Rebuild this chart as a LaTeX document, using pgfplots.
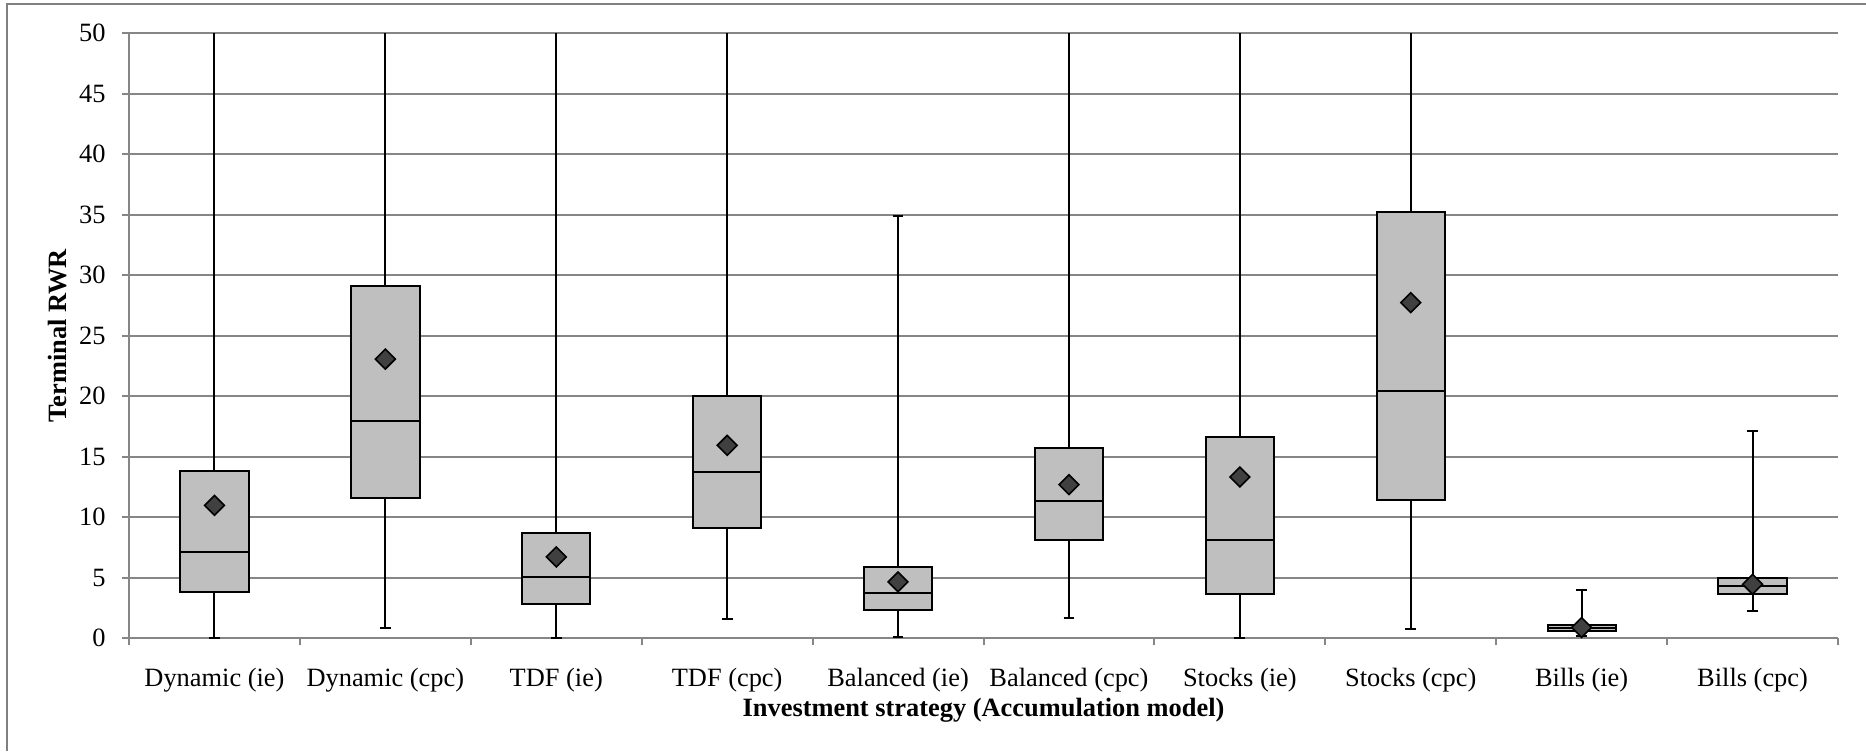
\documentclass[border=0pt]{standalone}
\usepackage{fontspec}
\setmainfont{Liberation Serif}
\usepackage{pgfplots}
\pgfplotsset{compat=1.18}
\usepgfplotslibrary{statistics}

\definecolor{gridgray}{RGB}{134,134,134}
\definecolor{boxgray}{RGB}{191,191,191}
\definecolor{meangray}{RGB}{64,64,64}
\definecolor{framegray}{RGB}{128,128,128}

\begin{document}
\begin{tikzpicture}
\begin{axis}[
  scale only axis,
  width=854.5pt, height=302.35pt,
  xmin=-0.5, xmax=9.5, ymin=0, ymax=50,
  axis x line*=bottom, axis y line*=left,
  axis line style={draw=gridgray, line width=1pt},
  xtick={0,...,9},
  xticklabels={Dynamic (ie),Dynamic (cpc),TDF (ie),TDF (cpc),Balanced (ie),Balanced (cpc),Stocks (ie),Stocks (cpc),Bills (ie),Bills (cpc)},
  major x tick style={draw=none},
  minor xtick={-0.5,0.5,...,9.5},
  minor x tick style={draw=gridgray, line width=1pt},
  ytick={0,5,...,50},
  y tick style={draw=gridgray, line width=1pt},
  tick align=outside,
  major tick length=3.7pt, minor tick length=3.7pt,
  ymajorgrids,
  grid style={draw=gridgray, line width=1pt},
  tick label style={font=\fontsize{13.2}{15}\selectfont},
  /pgf/number format/assume math mode=true,
  yticklabel style={anchor=east, inner sep=0pt, xshift=-7.8pt},
  xticklabel style={anchor=base, inner sep=0pt, yshift=-20.3pt},
  xlabel={Investment strategy (Accumulation model)},
  ylabel={Terminal RWR},
  label style={font=\fontsize{13.2}{15}\selectfont\bfseries},
  xlabel style={at={(axis description cs:0.5,0)}, anchor=base, yshift=-39pt},
  ylabel style={at={(axis description cs:-0.0421,0.5)}, anchor=center},
  boxplot/draw direction=y,
  boxplot/box extend=0.4,
  boxplot/whisker extend=0.063,
]
% Dynamic (ie)
\addplot[draw=black, fill=boxgray, line width=1pt, boxplot prepared={draw position=0,
  lower whisker=0, lower quartile=3.80, median=7.13, upper quartile=13.79, upper whisker=60}] coordinates {};
% Dynamic (cpc)
\addplot[draw=black, fill=boxgray, line width=1pt, boxplot prepared={draw position=1,
  lower whisker=0.79, lower quartile=11.57, median=17.91, upper quartile=29.08, upper whisker=60}] coordinates {};
% TDF (ie)
\addplot[draw=black, fill=boxgray, line width=1pt, boxplot prepared={draw position=2,
  lower whisker=0, lower quartile=2.85, median=5.07, upper quartile=8.72, upper whisker=60}] coordinates {};
% TDF (cpc)
\addplot[draw=black, fill=boxgray, line width=1pt, boxplot prepared={draw position=3,
  lower whisker=1.58, lower quartile=9.07, median=13.71, upper quartile=20.05, upper whisker=60}] coordinates {};
% Balanced (ie)
\addplot[draw=black, fill=boxgray, line width=1pt, boxplot prepared={draw position=4,
  lower whisker=0.08, lower quartile=2.34, median=3.76, upper quartile=5.86, upper whisker=34.86}] coordinates {};
% Balanced (cpc)
\addplot[draw=black, fill=boxgray, line width=1pt, boxplot prepared={draw position=5,
  lower whisker=1.66, lower quartile=8.08, median=11.33, upper quartile=15.69, upper whisker=60}] coordinates {};
% Stocks (ie)
\addplot[draw=black, fill=boxgray, line width=1pt, boxplot prepared={draw position=6,
  lower whisker=0, lower quartile=3.65, median=8.12, upper quartile=16.60, upper whisker=60}] coordinates {};
% Stocks (cpc)
\addplot[draw=black, fill=boxgray, line width=1pt, boxplot prepared={draw position=7,
  lower whisker=0.75, lower quartile=11.45, median=20.40, upper quartile=35.22, upper whisker=60}] coordinates {};
% Bills (ie)
\addplot[draw=black, fill=boxgray, line width=1pt, boxplot prepared={draw position=8,
  lower whisker=0.20, lower quartile=0.55, median=0.83, upper quartile=1.07, upper whisker=3.96}] coordinates {};
% Bills (cpc)
\addplot[draw=black, fill=boxgray, line width=1pt, boxplot prepared={draw position=9,
  lower whisker=2.26, lower quartile=3.61, median=4.28, upper quartile=4.95, upper whisker=17.08}] coordinates {};
% means
\addplot[only marks, mark=square*, mark size=3.5pt,
  mark options={rotate=45, fill=meangray, draw=black, line width=0.8pt}]
  coordinates {(0,10.97) (1,23.06) (2,6.70) (3,15.93) (4,4.64) (5,12.68) (6,13.31) (7,27.73) (8,0.87) (9,4.44)};
\end{axis}
\draw[framegray, line width=1pt] (-60.75pt,-56.5pt) -- (-60.75pt,317pt) -- (868.5pt,317pt);
\pgfresetboundingbox
\path[use as bounding box] (-64.5pt,-56.5pt) rectangle (868.5pt,319pt);
\end{tikzpicture}
\end{document}
